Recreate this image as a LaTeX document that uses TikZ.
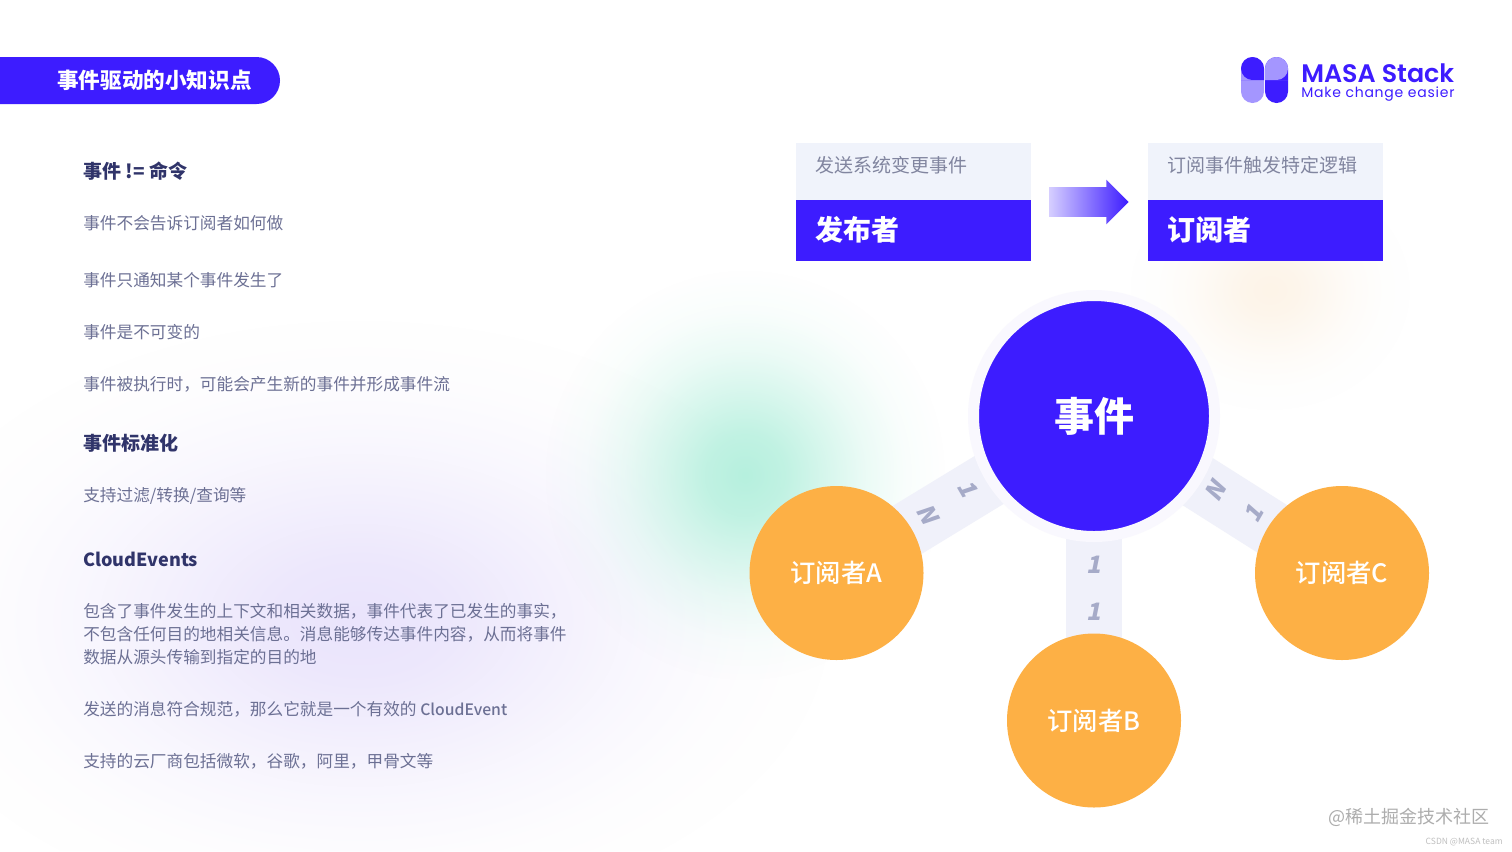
\documentclass[tikz,border=0pt]{standalone}
\usepackage{fontspec}
\setmainfont{Noto Sans CJK SC}
\newfontfamily\medfont{Noto Sans CJK SC Medium}
\newfontfamily\logofont{Poppins SemiBold}
\newfontfamily\slogonfont[LetterSpace=5.5]{Poppins}
\newfontfamily\spokefont[FakeSlant=0.2]{Noto Sans CJK SC}
\usetikzlibrary{shapes.arrows,fadings}
\definecolor{masablue}{HTML}{3D1CFF}
\definecolor{masalight}{HTML}{A496FF}
\definecolor{sunorange}{HTML}{FDB045}
\definecolor{palebox}{HTML}{F0F3FB}
\definecolor{spokeline}{HTML}{F0F1FA}
\definecolor{halo}{HTML}{F9F8FE}
\definecolor{bodytext}{HTML}{6C7094}
\definecolor{headtext}{HTML}{30346A}
\definecolor{spoketext}{HTML}{A6ABC8}
\definecolor{capgrey}{HTML}{81859F}
\pgfdeclareradialshading{softglow}{\pgfpointorigin}{color(0bp)=(white); color(5bp)=(white!85!black); color(10bp)=(white!55!black);
  color(15bp)=(white!27!black); color(20bp)=(white!8!black); color(25bp)=(black); color(50bp)=(black)}
\pgfdeclarefading{softglowfade}{\pgfuseshading{softglow}}
\pgfdeclarelayer{glow}
\pgfdeclarelayer{spokes}
\pgfsetlayers{glow,spokes,main}
\begin{document}
\begin{tikzpicture}[x=0.75pt,y=-0.75pt]
    \newcommand{\px}[0]{ 0.75pt }
    \tikzstyle{body}  = [anchor=west,inner sep=0pt,text=bodytext,font=\fontsize{12.5}{17.25}\selectfont,align=left]
    \tikzstyle{head}  = [anchor=west,inner sep=0pt,text=headtext,font=\fontsize{14.25}{17}\selectfont\bfseries]
    \tikzstyle{spoke} = [line width=56*\px,draw=spokeline]
    \tikzstyle{ratio} = [inner sep=0pt,text=spoketext,font=\fontsize{18}{20}\spokefont\bfseries]
    \tikzstyle{sub}   = [circle,fill=sunorange,minimum size=174*\px,inner sep=0pt,text=white,font=\fontsize{19}{21}\medfont]
    \tikzstyle{capbox}= [anchor=north west,fill=palebox,minimum width=235*\px,minimum height=56.5*\px,inner sep=0pt]
    \tikzstyle{rolebox}=[anchor=north west,fill=masablue,minimum width=235*\px,minimum height=61*\px,inner sep=0pt]
    \tikzstyle{captext}=[anchor=west,inner sep=0pt,text=capgrey,font=\fontsize{14.25}{17}\selectfont]
    \tikzstyle{roletext}=[anchor=west,inner sep=0pt,text=white,font=\fontsize{21}{24}\selectfont\bfseries]

    \useasboundingbox (0,0) rectangle (1512,851);

    % glows
    \begin{pgfonlayer}{glow}
      \fill[white] (0,0) rectangle (1512,851);
      \fill[color={rgb,255:red,234;green,228;blue,252},path fading=softglowfade] (360,620) ellipse (470 and 300);
      \fill[color={rgb,255:red,182;green,240;blue,222},path fading=softglowfade] (745,475) ellipse (200 and 205);
      \fill[color={rgb,255:red,253;green,244;blue,232},path fading=softglowfade] (1270,290) ellipse (140 and 120);
    \end{pgfonlayer}

    % title
    \node[fill=masablue,rounded corners=23.5*\px,minimum width=320*\px,minimum height=47*\px,inner sep=0pt] (banner) at (120,80.5) {};
    \fill[masablue] (0,57) rectangle (40,104);
    \node[anchor=west,inner sep=0pt,text=white,font=\fontsize{16.2}{18}\selectfont\bfseries] (banner_label) at (57,80) {事件驱动的小知识点};

    % logo
    \fill[masalight,rounded corners=11.5*\px] (1241,57) rectangle (1264,103);
    \fill[masablue] (1264,69) [rounded corners=11.5*\px] -- (1264,57) -- (1241,57) -- (1241,80) -- (1252.5,80) [sharp corners] -- (1264,80) -- cycle;
    \fill[masablue,rounded corners=11.5*\px] (1265,57) rectangle (1288,103);
    \fill[masalight] (1265,69) [rounded corners=11.5*\px] -- (1265,57) -- (1288,57) -- (1288,80) -- (1276.5,80) [sharp corners] -- (1265,80) -- cycle;
    \node[anchor=west,inner sep=0pt,text=masablue,font=\fontsize{19}{20}\logofont] (logo_name) at (1301,73) {MASA Stack};
    \node[anchor=west,inner sep=0pt,text=masablue,font=\fontsize{10.5}{12}\slogonfont] (logo_slogan) at (1301,94.5) {Make change easier};

    % left column
    \node[head] (head_command) at (83,171) {事件 != 命令};
    \node[body] (line_how) at (83,223) {事件不会告诉订阅者如何做};
    \node[body] (line_notify) at (83,280) {事件只通知某个事件发生了};
    \node[body] (line_fixed) at (83,332) {事件是不可变的};
    \node[body] (line_stream) at (83,384) {事件被执行时，可能会产生新的事件并形成事件流};
    \node[head] (head_standard) at (83,443) {事件标准化};
    \node[body] (line_filter) at (83,496) {支持过滤/转换/查询等};
    \node[head,font=\fontsize{13.55}{17}\selectfont\bfseries] (head_cloud) at (83,559) {CloudEvents};
    \node[body] (line_context) at (83,634) {包含了事件发生的上下文和相关数据，事件代表了已发生的事实，\\不包含任何目的地相关信息。消息能够传达事件内容，从而将事件\\数据从源头传输到指定的目的地};
    \node[body] (line_valid) at (83,709) {发送的消息符合规范，那么它就是一个有效的 {\fontsize{11.8}{17}\medfont CloudEvent}};
    \node[body] (line_vendor) at (83,761) {支持的云厂商包括微软，谷歌，阿里，甲骨文等};

    % publisher -> subscriber
    \node[capbox] (pub_cap) at (796,143) {};
    \node[rolebox] (pub_role) at (pub_cap.south west) {};
    \node[capbox] (sub_cap) at (1148,143) {};
    \node[rolebox] (sub_role) at (sub_cap.south west) {};
    \node[captext] (pub_cap_label) at ([xshift=19*\px,yshift=6*\px]pub_cap.west) {发送系统变更事件};
    \node[captext] (sub_cap_label) at ([xshift=19*\px,yshift=6*\px]sub_cap.west) {订阅事件触发特定逻辑};
    \node[roletext] (pub_role_label) at ([xshift=19*\px,yshift=1*\px]pub_role.west) {发布者};
    \node[roletext] (sub_role_label) at ([xshift=19*\px,yshift=1*\px]sub_role.west) {订阅者};
    \node[single arrow,anchor=tip,minimum height=79*\px,inner xsep=0pt,inner ysep=14.5*\px,single arrow head extend=7.5*\px,
      left color=masablue!22,right color=masablue] (flow) at (1129,202) {};

    % event and subscribers
    \node[circle,fill=masablue,draw=halo,line width=11*\px,minimum size=241*\px,inner sep=0pt,text=white,
      font=\fontsize{30}{34}\selectfont\bfseries] (event) at (1094,416) {事件};
    \node[sub] (sub_a) at (836.5,573) {订阅者A};
    \node[sub] (sub_b) at (1094,720.5) {订阅者B};
    \node[sub] (sub_c) at (1342,573) {订阅者C};

    % event <-> subscribers
    \begin{pgfonlayer}{spokes}
      \draw[spoke] (event.center) -- (sub_a.center);
      \draw[spoke] (event.center) -- (sub_b.center);
      \draw[spoke] (event.center) -- (sub_c.center);
    \end{pgfonlayer}

    % ratios
    \node[ratio,rotate=-60] (a_one) at (968,488) {1};
    \node[ratio,rotate=-60] (a_many) at (928,514) {N};
    \node[ratio] (b_one) at (1094,565) {1};
    \node[ratio] (b_two) at (1094,612) {1};
    \node[ratio,rotate=60] (c_many) at (1215,491) {N};
    \node[ratio,rotate=60] (c_one) at (1254,514) {1};

    % marks of origin
    \node[anchor=west,inner sep=0pt,text=black!32,font=\fontsize{13.5}{16}\selectfont] (mark_site) at (1328,817) {@稀土掘金技术社区};
    \node[anchor=east,inner sep=0pt,text=black!25,font=\fontsize{6.4}{8}\selectfont] (mark_team) at (1503,842) {CSDN @MASA team};
  \end{tikzpicture}
\end{document}
